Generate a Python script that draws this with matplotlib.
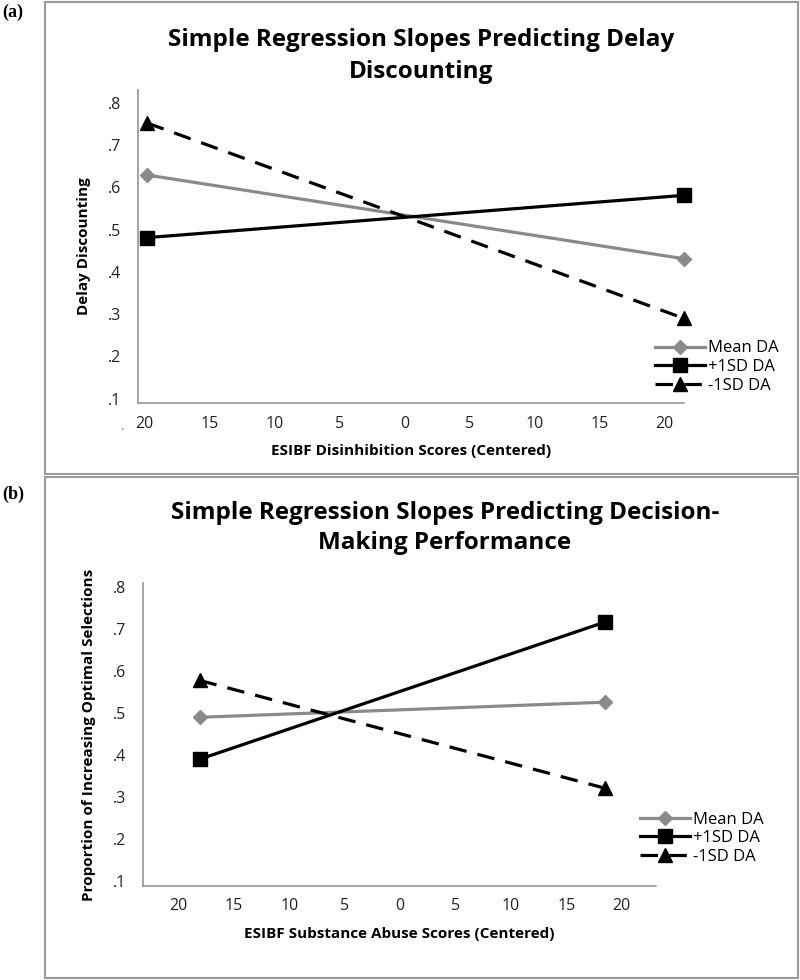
import matplotlib
matplotlib.use("Agg")
import matplotlib.pyplot as plt
from matplotlib.patches import Rectangle

plt.rcParams['font.family'] = ['Open Sans', 'DejaVu Sans']

# data
series = ["Mean DA", "+1SD DA", "-1SD DA"]
tick_pos = [-20, -15, -10, -5, 0, 5, 10, 15, 20]
tick_lab = ["20", "15", "10", "5", "0", "5", "10", "15", "20"]
ytick_pos = [0.1, 0.2, 0.3, 0.4, 0.5, 0.6, 0.7, 0.8]
ytick_lab = [".1", ".2", ".3", ".4", ".5", ".6", ".7", ".8"]

# (a) delay discounting
xa = [-19.8, 21.5]
a_mean = [0.629, 0.431]
a_plus = [0.481, 0.581]
a_minus = [0.752, 0.290]

# (b) decision making
xb = [-18.1, 18.5]
b_mean = [0.490, 0.526]
b_plus = [0.390, 0.717]
b_minus = [0.578, 0.321]

W, H = 800, 980
fig = plt.figure(figsize=(8, 9.8), dpi=100)


def fx(px):
    return px / W


def fy(py):
    return 1 - py / H


# outer panel boxes
for top, bot in [(2, 474), (477, 978)]:
    fig.add_artist(Rectangle((fx(45), fy(bot)), fx(798) - fx(45), fy(top) - fy(bot),
                             transform=fig.transFigure, fill=False,
                             edgecolor="#9a9a9a", linewidth=1.5))

gray = "#8a8a8a"
spine = "#8c8c8c"


def panel(rect, x, mean, plus, minus, xlim, ylim, ylabel, xlabel, leg_xy):
    ax = fig.add_axes(rect)
    ax.plot(x, mean, color=gray, lw=2.3, marker="D", ms=7, label=series[0], clip_on=False)
    ax.plot(x, plus, color="black", lw=2.3, marker="s", ms=10.5, label=series[1], clip_on=False)
    ax.plot(x, minus, color="black", lw=2.3, marker="^", ms=10, dashes=(5.5, 3.5),
            label=series[2], clip_on=False)
    ax.set_xlim(*xlim)
    ax.set_ylim(*ylim)
    ax.set_xticks(tick_pos)
    ax.set_xticklabels(tick_lab)
    ax.set_yticks(ytick_pos)
    ax.set_yticklabels(ytick_lab)
    for s in ["top", "right"]:
        ax.spines[s].set_visible(False)
    for s in ["left", "bottom"]:
        ax.spines[s].set_color(spine)
        ax.spines[s].set_linewidth(1.1)
    ax.tick_params(length=0, labelsize=11.5, labelcolor="#222222")
    ax.tick_params(axis="y", pad=12)
    ax.tick_params(axis="x", pad=9)
    ax.set_ylabel(ylabel, fontsize=11, fontweight="bold", labelpad=12)
    ax.set_xlabel(xlabel, fontsize=11, fontweight="bold", labelpad=9)
    ax.legend(loc="center left", bbox_to_anchor=leg_xy, bbox_transform=fig.transFigure,
              frameon=False, fontsize=12, handlelength=3.0, handletextpad=0.2,
              labelspacing=0.15, borderpad=0, borderaxespad=0)
    return ax


axa = panel([fx(138), fy(403), fx(684) - fx(138), fy(90) - fy(403)],
            xa, a_mean, a_plus, a_minus, (-20.5, 21.5), (0.09, 0.83),
            "Delay Discounting", "ESIBF Disinhibition Scores (Centered)",
            (fx(655), fy(367)))
axb = panel([fx(143), fy(886), fx(656) - fx(143), fy(583) - fy(886)],
            xb, b_mean, b_plus, b_minus, (-23.2, 23.1), (0.088, 0.81),
            "Proportion of Increasing Optimal Selections",
            "ESIBF Substance Abuse Scores (Centered)",
            (fx(640), fy(838)))

fig.text(fx(421), fy(56), "Simple Regression Slopes Predicting Delay\nDiscounting",
         ha="center", va="center", fontsize=17.5, fontweight="bold", linespacing=1.45)
fig.text(fx(445), fy(528), "Simple Regression Slopes Predicting Decision-\nMaking Performance",
         ha="center", va="center", fontsize=17.5, fontweight="bold", linespacing=1.35)

fig.text(fx(2), fy(12), "(a)", ha="left", va="center", fontsize=13, fontweight="bold",
         family="Liberation Serif")
fig.text(fx(2), fy(494), "(b)", ha="left", va="center", fontsize=13, fontweight="bold",
         family="Liberation Serif")
fig.text(fx(122), fy(426), ".", ha="center", va="center", fontsize=9, color="#777777")

fig.savefig("out.png", dpi=100)
